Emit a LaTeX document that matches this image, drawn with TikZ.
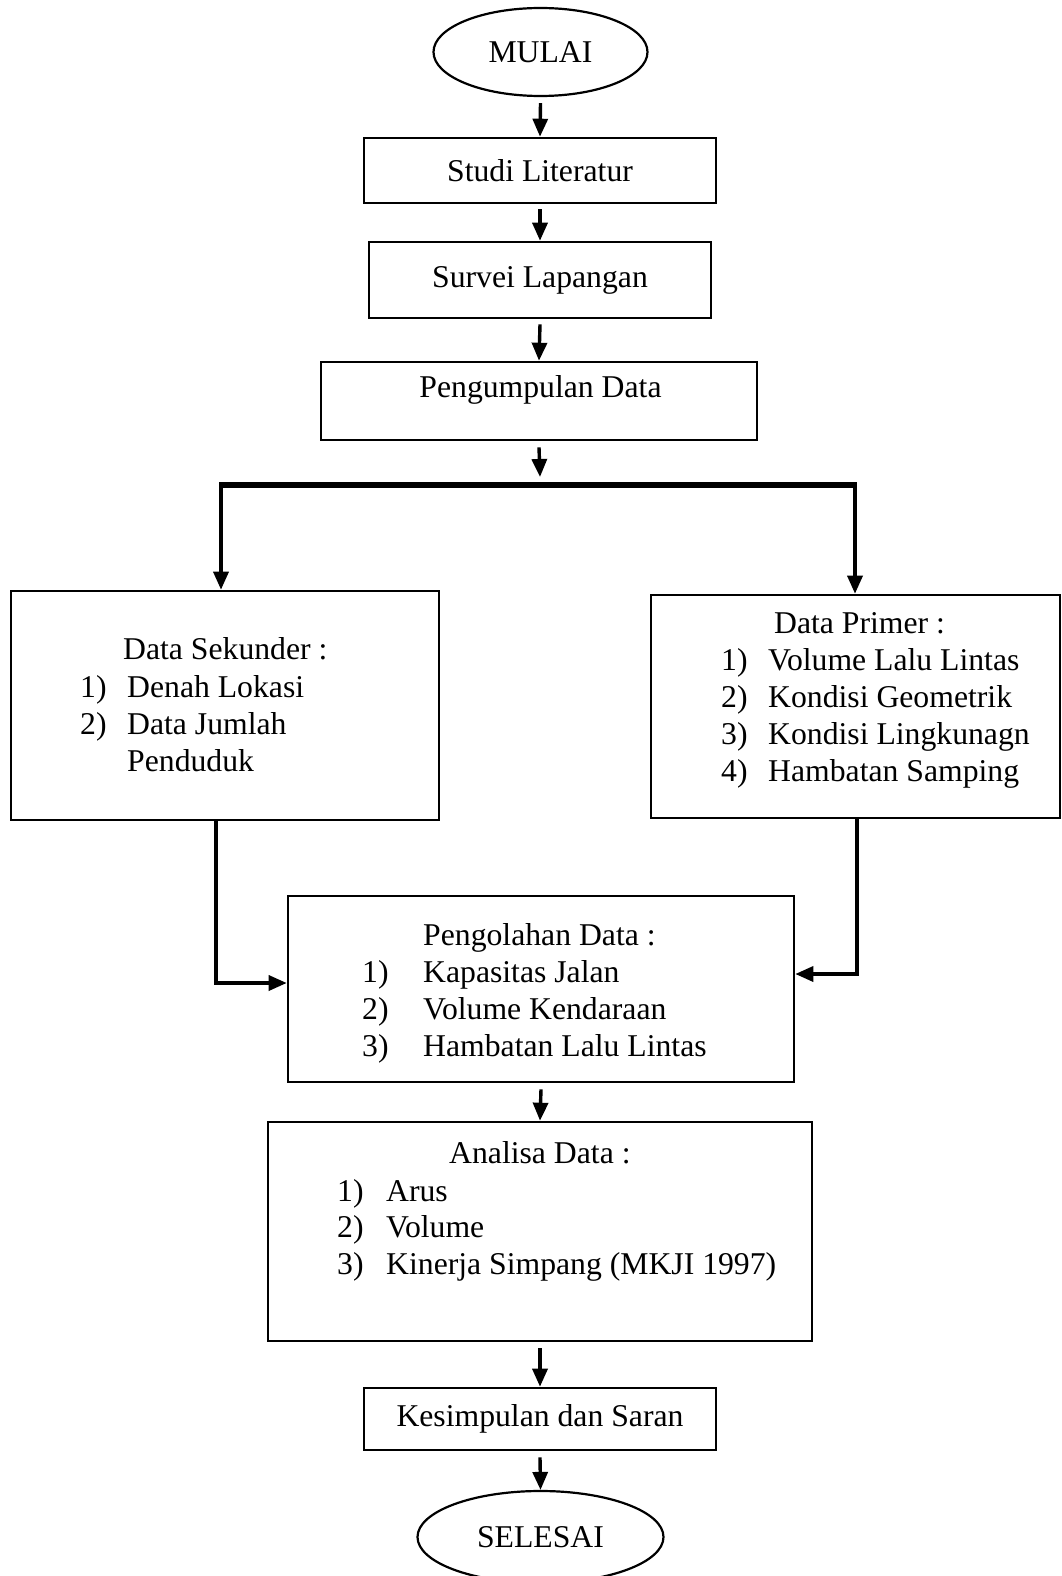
\documentclass[tikz,border=0pt]{standalone}
\usepackage{fontspec}
\setmainfont{Liberation Serif}
\usetikzlibrary{shapes.geometric,arrows.meta}
\begin{document}
\begin{tikzpicture}[x=1pt,y=-1pt,
  txt/.style={font=\fontsize{31.7}{37}\selectfont, inner sep=0pt},
  boxnode/.style={draw, line width=2.6pt, rectangle, inner sep=0pt, font=\fontsize{31.7}{37}\selectfont},
  oval/.style={draw, line width=2.2pt, ellipse, inner sep=0pt, font=\fontsize{31.7}{37}\selectfont},
  arr/.style={line width=3.4pt, -{Triangle[length=18pt,width=15pt]}},
  conn/.style={line width=3.4pt}
]
\clip (0,0) rectangle (1061,1576);
\fill[white] (0,0) rectangle (1061,1576);

% Nodes
\node[oval, minimum width=214, minimum height=88] (mulai) at (540.5,52) {MULAI};
\node[boxnode, minimum width=352, minimum height=65] (studi) at (540,170.5) {Studi Literatur};
\node[boxnode, minimum width=342, minimum height=76] (survei) at (540,280) {Survei Lapangan};
\node[boxnode, minimum width=436, minimum height=78] (kumpul) at (539,401) {};
\node[txt] (kumpult) at (540.5,390) {Pengumpulan Data};

\node[boxnode, minimum width=428, minimum height=229] (sek) at (225,705.5) {};
\node[txt, anchor=base west] (sek0) at (123,659) {Data Sekunder :};
\node[txt, anchor=base west] (sek1n) at (80,697) {1)};
\node[txt, anchor=base west] (sek1) at (127,697) {Denah Lokasi};
\node[txt, anchor=base west] (sek2n) at (80,734) {2)};
\node[txt, anchor=base west] (sek2) at (127,734) {Data Jumlah};
\node[txt, anchor=base west] (sek3) at (127,771) {Penduduk};

\node[boxnode, minimum width=409, minimum height=223] (pri) at (855.5,706.5) {};
\node[txt, anchor=base west] (pri0) at (774,633) {Data Primer :};
\node[txt, anchor=base west] (pri1n) at (721,670) {1)};
\node[txt, anchor=base west] (pri1) at (768,670) {Volume Lalu Lintas};
\node[txt, anchor=base west] (pri2n) at (721,707) {2)};
\node[txt, anchor=base west] (pri2) at (768,707) {Kondisi Geometrik};
\node[txt, anchor=base west] (pri3n) at (721,744) {3)};
\node[txt, anchor=base west] (pri3) at (768,744) {Kondisi Lingkunagn};
\node[txt, anchor=base west] (pri4n) at (721,781) {4)};
\node[txt, anchor=base west] (pri4) at (768,781) {Hambatan Samping};

\node[boxnode, minimum width=506, minimum height=186] (olah) at (541,989) {};
\node[txt, anchor=base west] (olah0) at (423,945) {Pengolahan Data :};
\node[txt, anchor=base west] (olah1n) at (362,982) {1)};
\node[txt, anchor=base west] (olah1) at (423,982) {Kapasitas Jalan};
\node[txt, anchor=base west] (olah2n) at (362,1019) {2)};
\node[txt, anchor=base west] (olah2) at (423,1019) {Volume Kendaraan};
\node[txt, anchor=base west] (olah3n) at (362,1056) {3)};
\node[txt, anchor=base west] (olah3) at (423,1056) {Hambatan Lalu Lintas};

\node[boxnode, minimum width=544, minimum height=219] (anal) at (540,1231.5) {};
\node[txt, anchor=base west] (anal0) at (449,1163) {Analisa Data :};
\node[txt, anchor=base west] (anal1n) at (337,1201) {1)};
\node[txt, anchor=base west] (anal1) at (386,1201) {Arus};
\node[txt, anchor=base west] (anal2n) at (337,1237) {2)};
\node[txt, anchor=base west] (anal2) at (386,1237) {Volume};
\node[txt, anchor=base west] (anal3n) at (337,1274) {3)};
\node[txt, anchor=base west] (anal3) at (386,1274) {Kinerja Simpang (MKJI 1997)};

\node[boxnode, minimum width=352, minimum height=62] (simp) at (540,1419) {Kesimpulan dan Saran};
\node[oval, minimum width=246, minimum height=92] (selesai) at (540.5,1537) {SELESAI};

% Connectors
\draw[arr] ([yshift=-6pt]mulai.south) -- (studi.north);
\draw[arr] ([yshift=-5pt]studi.south) -- (survei.north);
\draw[arr] ([yshift=-5pt]survei.south) -- (kumpul.north);
\coordinate (busmid) at (540,485);
\coordinate (busl) at (221,485);
\coordinate (busr) at (855,485);
\draw[arr] ([yshift=-6pt]kumpul.south) -- ([yshift=8pt]busmid);
\draw[line width=6pt] ([xshift=-2pt]busl) -- ([xshift=2pt]busr);
\draw[arr] (busl) -- (busl |- sek.north);
\draw[arr] (busr) -- (busr |- pri.north);

\coordinate (lk) at (216,983);
\coordinate (rk) at (857,974);
\draw[arr] (lk |- sek.south) -- (lk) -- (lk -| olah.west);
\draw[arr] (rk |- pri.south) -- (rk) -- (rk -| olah.east);

\draw[arr] ([yshift=-6pt]olah.south) -- (anal.north);
\draw[arr] ([yshift=-6pt]anal.south) -- (simp.north);
\draw[arr] ([yshift=-6pt]simp.south) -- (selesai.north);
\end{tikzpicture}
\end{document}
